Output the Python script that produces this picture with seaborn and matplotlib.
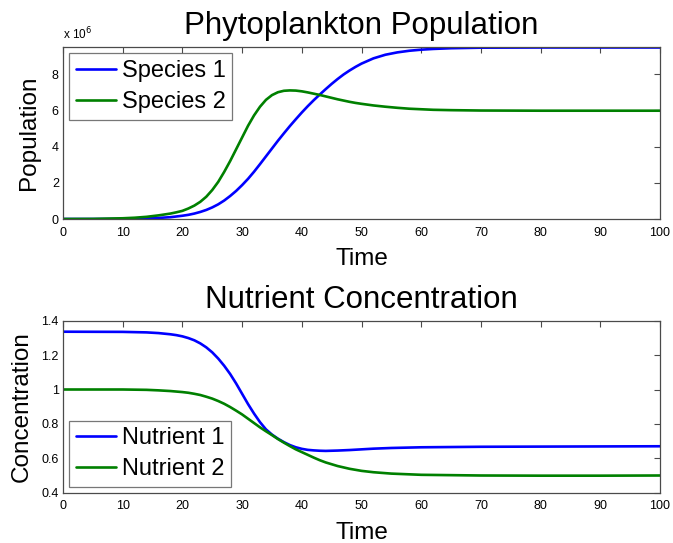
import numpy as np
import pandas as pd
import matplotlib
matplotlib.use("Agg")
import matplotlib.pyplot as plt
from matplotlib.ticker import FuncFormatter
import seaborn as sns

# Phytoplankton populations over time (in cells, millions)
t_pop = [0, 5, 10, 12, 14, 16, 18, 19, 20, 21, 22, 23, 24, 25, 26, 27, 28, 29,
         30, 31, 32, 33, 34, 35, 36, 37, 38, 39, 40, 41, 42, 43, 44, 45, 46, 47,
         48, 49, 50, 52, 54, 56, 58, 60, 62, 65, 70, 80, 90, 100]
species1 = [0.0, 0.0, 0.005, 0.01, 0.03, 0.06, 0.1, 0.14, 0.18, 0.23, 0.3, 0.39,
            0.5, 0.64, 0.81, 1.02, 1.27, 1.55, 1.87, 2.22, 2.61, 3.03, 3.46,
            3.89, 4.32, 4.73, 5.13, 5.51, 5.88, 6.23, 6.56, 6.87, 7.17, 7.46,
            7.73, 7.98, 8.2, 8.4, 8.58, 8.87, 9.07, 9.2, 9.29, 9.35, 9.39, 9.43,
            9.46, 9.47, 9.47, 9.47]
species2 = [0.0, 0.005, 0.04, 0.07, 0.12, 0.2, 0.3, 0.37, 0.45, 0.58, 0.74, 0.95,
            1.23, 1.6, 2.05, 2.6, 3.2, 3.85, 4.5, 5.15, 5.72, 6.2, 6.58, 6.84,
            7.0, 7.08, 7.1, 7.09, 7.05, 6.99, 6.92, 6.85, 6.77, 6.69, 6.61, 6.54,
            6.47, 6.41, 6.36, 6.27, 6.2, 6.14, 6.09, 6.06, 6.03, 6.01, 5.99,
            5.98, 5.98, 5.98]
species1 = [v * 1e6 for v in species1]
species2 = [v * 1e6 for v in species2]

# Nutrient concentrations over time
t_nut = [0, 10, 14, 16, 18, 19, 20, 21, 22, 23, 24, 25, 26, 27, 28, 29, 30, 31,
         32, 33, 34, 35, 36, 37, 38, 39, 40, 41, 42, 43, 44, 46, 48, 50, 52, 55,
         60, 70, 80, 90, 100]
nutrient1 = [1.336, 1.335, 1.332, 1.328, 1.321, 1.316, 1.309, 1.299, 1.286,
             1.268, 1.245, 1.216, 1.18, 1.138, 1.09, 1.035, 0.975, 0.915, 0.86,
             0.81, 0.768, 0.738, 0.714, 0.694, 0.677, 0.664, 0.655, 0.649,
             0.646, 0.644, 0.643, 0.645, 0.648, 0.652, 0.656, 0.66, 0.664,
             0.667, 0.668, 0.669, 0.67]
nutrient2 = [1.0, 1.0, 0.998, 0.995, 0.991, 0.988, 0.985, 0.981, 0.975, 0.968,
             0.958, 0.947, 0.933, 0.917, 0.898, 0.877, 0.855, 0.83, 0.805, 0.78,
             0.757, 0.735, 0.712, 0.691, 0.671, 0.652, 0.636, 0.62, 0.604,
             0.589, 0.576, 0.555, 0.539, 0.527, 0.519, 0.511, 0.504, 0.5, 0.499,
             0.499, 0.5]

pop_df = pd.DataFrame({"Time": t_pop * 2,
                       "Population": species1 + species2,
                       "Series": ["Species 1"] * len(t_pop) + ["Species 2"] * len(t_pop)})
nut_df = pd.DataFrame({"Time": t_nut * 2,
                       "Concentration": nutrient1 + nutrient2,
                       "Series": ["Nutrient 1"] * len(t_nut) + ["Nutrient 2"] * len(t_nut)})

sns.set_style("white")
plt.rcParams["font.family"] = ["Liberation Sans", "DejaVu Sans"]
plt.rcParams["text.color"] = "black"
plt.rcParams["axes.labelcolor"] = "black"
plt.rcParams["xtick.labelcolor"] = "black"
plt.rcParams["ytick.labelcolor"] = "black"

edge = "#4a4a4a"
colors = ["#0000ff", "#008000"]
fig = plt.figure(figsize=(6.73, 5.43), dpi=100)
ax1 = fig.add_axes([63 / 673, 1 - 219 / 543, 597 / 673, 171.5 / 543])
ax2 = fig.add_axes([63 / 673, 1 - 492.7 / 543, 597 / 673, 172 / 543])

sns.lineplot(data=pop_df, x="Time", y="Population", hue="Series",
             palette=colors, linewidth=1.9, ax=ax1)
sns.lineplot(data=nut_df, x="Time", y="Concentration", hue="Series",
             palette=colors, linewidth=1.9, ax=ax2)

ax1.set_xlim(0, 100)
ax1.set_ylim(0, max(species1))
ax1.set_yticks([0, 2e6, 4e6, 6e6, 8e6])
ax1.yaxis.set_major_formatter(FuncFormatter(lambda v, p: f"{v / 1e6:g}"))
ax1.text(0, 1.03, r"x 10$^{6}$", transform=ax1.transAxes, fontsize=8.5,
         ha="left", va="bottom")

ax2.set_xlim(0, 100)
ax2.set_ylim(0.4, 1.4)
ax2.set_yticks([0.4, 0.6, 0.8, 1.0, 1.2, 1.4])
ax2.yaxis.set_major_formatter(FuncFormatter(lambda v, p: f"{v:g}"))

for ax, title, ylab, lpad in [(ax1, "Phytoplankton Population", "Population", 8.5),
                              (ax2, "Nutrient Concentration", "Concentration", 6.5)]:
    ax.set_xticks(range(0, 101, 10))
    ax.tick_params(axis="both", which="both", direction="in", length=4.5,
                   width=0.8, color=edge, labelsize=9, top=True, right=True)
    ax.tick_params(axis="x", pad=5.5)
    ax.tick_params(axis="y", pad=3)
    for sp in ax.spines.values():
        sp.set_color(edge)
        sp.set_linewidth(0.9)
        sp.set_visible(True)
    ax.set_title(title, fontsize=22.5, pad=9.5)
    ax.set_xlabel("Time", fontsize=17.5, labelpad=7)
    ax.set_ylabel(ylab, fontsize=17.5, labelpad=lpad)
    leg = ax.legend(loc="upper left" if ax is ax1 else "lower left",
                    fontsize=17, frameon=True, fancybox=False,
                    handlelength=1.7, handletextpad=0.25, borderpad=0.28,
                    labelspacing=0.38, borderaxespad=0.25)
    leg.get_frame().set_edgecolor("#555555")
    leg.get_frame().set_linewidth(0.9)
    for h in leg.get_lines():
        h.set_linewidth(1.9)

fig.savefig("out.png", dpi=100)
